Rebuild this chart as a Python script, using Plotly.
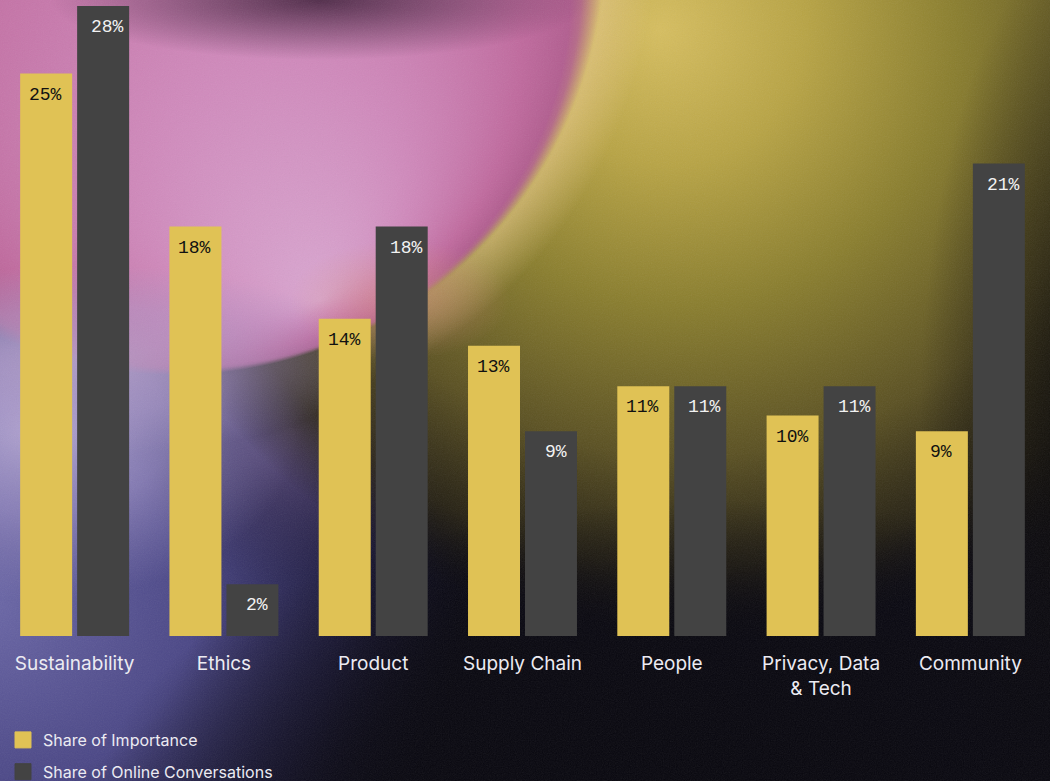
import base64
import plotly.graph_objects as go

categories = ["Sustainability", "Ethics", "Product", "Supply Chain", "People",
              "Privacy, Data<br>& Tech", "Community"]
importance = [25.0, 18.2, 14.1, 12.9, 11.1, 9.8, 9.1]
conversations = [28.0, 2.3, 18.2, 9.1, 11.1, 11.1, 21.0]
series_names = ["Share of Importance", "Share of Online Conversations"]

YELLOW = "#e0c255"
DARK = "#434343"

W, H = 1050, 781
ML, MR, MT, MB = 0, 5, 6, 145
PW, PH = W - ML - MR, H - MT - MB

svg = f"""<svg xmlns='http://www.w3.org/2000/svg' width='{W}' height='{H}' viewBox='0 0 {W} {H}' preserveAspectRatio='none'>
<defs>
<radialGradient id='gLil'>
<stop offset='0' stop-color='#6c68a8'/><stop offset='0.45' stop-color='#4e4a8c' stop-opacity='0.95'/>
<stop offset='0.75' stop-color='#2e2a5e' stop-opacity='0.6'/><stop offset='1' stop-color='#1a1838' stop-opacity='0'/>
</radialGradient>
<radialGradient id='gLil2'>
<stop offset='0' stop-color='#b4a6d2'/><stop offset='0.5' stop-color='#9a8ec4' stop-opacity='0.7'/>
<stop offset='1' stop-color='#8a80b8' stop-opacity='0'/>
</radialGradient>
<radialGradient id='gLil3'>
<stop offset='0' stop-color='#b9a2cc' stop-opacity='0.85'/><stop offset='0.55' stop-color='#b09ccc' stop-opacity='0.5'/>
<stop offset='1' stop-color='#a898c8' stop-opacity='0'/>
</radialGradient>
<radialGradient id='gMid'>
<stop offset='0' stop-color='#6a5888' stop-opacity='0.9'/><stop offset='1' stop-color='#3a2e58' stop-opacity='0'/>
</radialGradient>
<radialGradient id='gOl' gradientUnits='userSpaceOnUse' cx='700' cy='20' r='620' fx='660' fy='30'>
<stop offset='0' stop-color='#d6be60'/><stop offset='0.22' stop-color='#b8a445'/>
<stop offset='0.45' stop-color='#8a7e2e'/><stop offset='0.7' stop-color='#5a5022'/>
<stop offset='0.88' stop-color='#2e2814' stop-opacity='0.8'/><stop offset='1' stop-color='#15120c' stop-opacity='0'/>
</radialGradient>
<radialGradient id='gPink' gradientUnits='userSpaceOnUse' cx='175' cy='-55' r='430' fx='320' fy='300'>
<stop offset='0' stop-color='#d9a6d0'/><stop offset='0.3' stop-color='#d08abc'/>
<stop offset='0.7' stop-color='#c06a9e'/><stop offset='0.88' stop-color='#b25e90'/>
<stop offset='0.92' stop-color='#b25e90' stop-opacity='0.85'/><stop offset='1' stop-color='#b25e90' stop-opacity='0'/>
</radialGradient>
<radialGradient id='gRim' gradientUnits='userSpaceOnUse' cx='175' cy='-55' r='480'>
<stop offset='0.83' stop-color='#e6c888' stop-opacity='0'/><stop offset='0.9' stop-color='#e6c888' stop-opacity='0.6'/>
<stop offset='1' stop-color='#e6c888' stop-opacity='0'/>
</radialGradient>
<linearGradient id='gRimMask' x1='0' y1='0' x2='1' y2='0'>
<stop offset='0.3' stop-color='white' stop-opacity='0'/><stop offset='0.47' stop-color='white' stop-opacity='1'/>
</linearGradient>
<mask id='rimMask' maskUnits='userSpaceOnUse' x='0' y='0' width='{W}' height='{H}'>
<rect width='{W}' height='{H}' fill='url(#gRimMask)'/>
</mask>
<radialGradient id='gTop'>
<stop offset='0' stop-color='#3c1e38' stop-opacity='0.85'/><stop offset='1' stop-color='#3c1e38' stop-opacity='0'/>
</radialGradient>
<radialGradient id='gSal'>
<stop offset='0' stop-color='#d89080' stop-opacity='0.55'/><stop offset='1' stop-color='#d89080' stop-opacity='0'/>
</radialGradient>
<radialGradient id='gDark'>
<stop offset='0' stop-color='#07060d' stop-opacity='1'/><stop offset='0.6' stop-color='#07060d' stop-opacity='0.7'/>
<stop offset='1' stop-color='#07060d' stop-opacity='0'/>
</radialGradient>
<radialGradient id='gRight'>
<stop offset='0' stop-color='#0c0a08' stop-opacity='0.9'/><stop offset='1' stop-color='#0c0a08' stop-opacity='0'/>
</radialGradient>
<filter id='grain'><feTurbulence type='fractalNoise' baseFrequency='0.85' numOctaves='2' stitchTiles='stitch'/><feColorMatrix type='saturate' values='0'/></filter>
</defs>
<rect width='{W}' height='{H}' fill='#0a0914'/>
<ellipse cx='-20' cy='600' rx='480' ry='420' fill='url(#gLil)'/>
<ellipse cx='290' cy='430' rx='170' ry='150' fill='url(#gMid)'/>
<ellipse cx='40' cy='430' rx='260' ry='170' fill='url(#gLil2)'/>
<rect width='{W}' height='{H}' fill='url(#gOl)'/>
<ellipse cx='1090' cy='420' rx='170' ry='480' fill='url(#gRight)'/>
<ellipse cx='720' cy='800' rx='620' ry='300' fill='url(#gDark)'/>
<rect width='{W}' height='{H}' fill='url(#gRim)' mask='url(#rimMask)'/>
<circle cx='175' cy='-55' r='430' fill='url(#gPink)'/>
<ellipse cx='90' cy='360' rx='280' ry='95' fill='url(#gLil3)'/>
<ellipse cx='320' cy='0' rx='270' ry='60' fill='url(#gTop)'/>
<ellipse cx='400' cy='300' rx='110' ry='60' fill='url(#gSal)'/>
<rect width='{W}' height='{H}' filter='url(#grain)' opacity='0.09'/>
</svg>"""
bg_src = "data:image/svg+xml;base64," + base64.b64encode(svg.encode()).decode()

fig = go.Figure()
fig.add_trace(go.Bar(x=categories, y=importance, name=series_names[0],
                     marker=dict(color=YELLOW, line=dict(width=0)), showlegend=False))
fig.add_trace(go.Bar(x=categories, y=conversations, name=series_names[1],
                     marker=dict(color=DARK, line=dict(width=0)), showlegend=False))

# legend proxies
for name, col, grp in [(series_names[0], YELLOW, "a"), (series_names[1], DARK, "b")]:
    fig.add_trace(go.Scatter(x=[None], y=[None], mode="markers", name=name,
                             legendgroup=grp,
                             marker=dict(symbol="square", size=16, color=col,
                                         line=dict(width=1, color=col))))

annotations = []
for vals, shift, col in [(importance, -31, "#111111"), (conversations, 31, "#f2f2f2")]:
    for c, v in zip(categories, vals):
        annotations.append(dict(x=c, y=v, xref="x", yref="y", text=f"{round(v)}%",
                                showarrow=False, xshift=shift + 2, yshift=-21,
                                yanchor="middle", xanchor="center",
                                font=dict(family="Liberation Mono", size=18, color=col)))

fig.update_layout(
    width=W, height=H,
    margin=dict(l=ML, r=MR, t=MT, b=MB, pad=0, autoexpand=False),
    paper_bgcolor="#0a0914", plot_bgcolor="rgba(0,0,0,0)",
    barmode="group", bargap=0.2366, bargroupgap=0.0877,
    showlegend=True,
    legend=dict(x=3 / PW, y=(636 - 723) / PH, xanchor="left", yanchor="top",
                bgcolor="rgba(0,0,0,0)", tracegroupgap=8,
                font=dict(family="Inter", size=16, color="#ecebf2")),
    annotations=annotations,
    images=[dict(source=bg_src, xref="paper", yref="paper",
                 x=-ML / PW, y=1 + MT / PH, sizex=W / PW, sizey=H / PH,
                 xanchor="left", yanchor="top", sizing="stretch", layer="below")],
    font=dict(family="Inter", color="#ecebf2"),
)
fig.update_xaxes(showgrid=False, showline=False, zeroline=False, ticks="",
                 ticklabelstandoff=14,
                 tickfont=dict(family="Inter", size=19, color="#ecebf2"),
                 fixedrange=True)
fig.update_yaxes(range=[0, 28], showgrid=False, showline=False, zeroline=False,
                 showticklabels=False, ticks="", fixedrange=True)

fig.write_html("out.html", config={"displayModeBar": False},
               post_script="document.body.style.margin='0';document.body.style.overflow='hidden';")
